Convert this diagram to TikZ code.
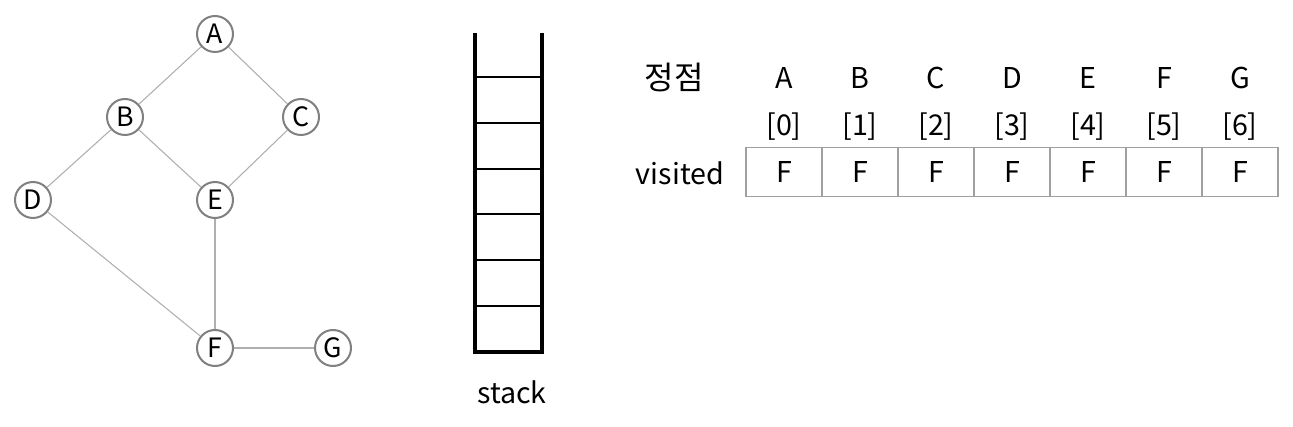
\documentclass[tikz,border=0pt]{standalone}
\usepackage{fontspec}
\setmainfont{Noto Sans CJK KR}
\usetikzlibrary{positioning}
\definecolor{vgray}{RGB}{128, 128, 128}
\definecolor{egray}{RGB}{175, 175, 175}
\definecolor{cgray}{RGB}{160, 160, 160}
\tikzset{vertex/.style = {circle, draw=vgray, line width=1.5pt, minimum size=27pt,
                          inner sep=0pt, font=\fontsize{20}{20}\selectfont}}
\tikzset{edge/.style = {draw=egray, line width=0.8pt}}
\tikzset{cell/.style = {draw=cgray, line width=1pt, minimum width=57pt,
                        minimum height=36.75pt, inner sep=0pt,
                        font=\fontsize{21.5}{21.5}\selectfont}}
\tikzset{tlabel/.style = {inner sep=0pt, font=\fontsize{21.5}{21.5}\selectfont}}
\tikzset{wall/.style = {line width=2.4pt}}
\tikzset{slot/.style = {line width=1pt}}

\begin{document}
\begin{tikzpicture}[x=0.75pt, y=-0.75pt]
      \useasboundingbox (0,0) rectangle (1293,427);
      \node [vertex] (A) at (215, 34) {A};
      \node [vertex] (B) at (125, 117) {B};
      \node [vertex] (C) at (301, 117) {C};
      \node [vertex] (D) at (33, 200) {D};
      \node [vertex] (E) at (215, 200) {E};
      \node [vertex] (F) at (215, 348) {F};
      \node [vertex] (G) at (333, 348) {G};
      \draw [edge] (A) -- (B);
      \draw [edge] (A) -- (C);
      \draw [edge] (B) -- (D);
      \draw [edge] (B) -- (E);
      \draw [edge] (C) -- (E);
      \draw [edge] (D) -- (F);
      \draw [edge] (E) -- (F);
      \draw [edge] (F) -- (G);
      \draw [wall] (475, 33) -- (475, 352) -- (542, 352) -- (542, 33);
      \foreach \y in {77, 123, 169, 214, 260, 306}
        \draw [slot] (475, \y) -- (542, \y);
      \node [tlabel] (stack) at (512, 392) {stack};
      \node [tlabel, font=\fontsize{24}{24}\selectfont] (vertexhead) at (674, 78) {정점};
      \node [tlabel] (visited) at (680, 173) {visited};
      \foreach \i/\v in {0/A, 1/B, 2/C, 3/D, 4/E, 5/F, 6/G} {
        \node [cell] (cell\i) at ({784 + 76*\i}, 172) {F};
        \node [tlabel] (idx\i) at ({784 + 76*\i}, 127) {[\i]};
        \node [tlabel] (name\i) at ({784 + 76*\i}, 78) {\v};
      }
    \end{tikzpicture}
\end{document}
